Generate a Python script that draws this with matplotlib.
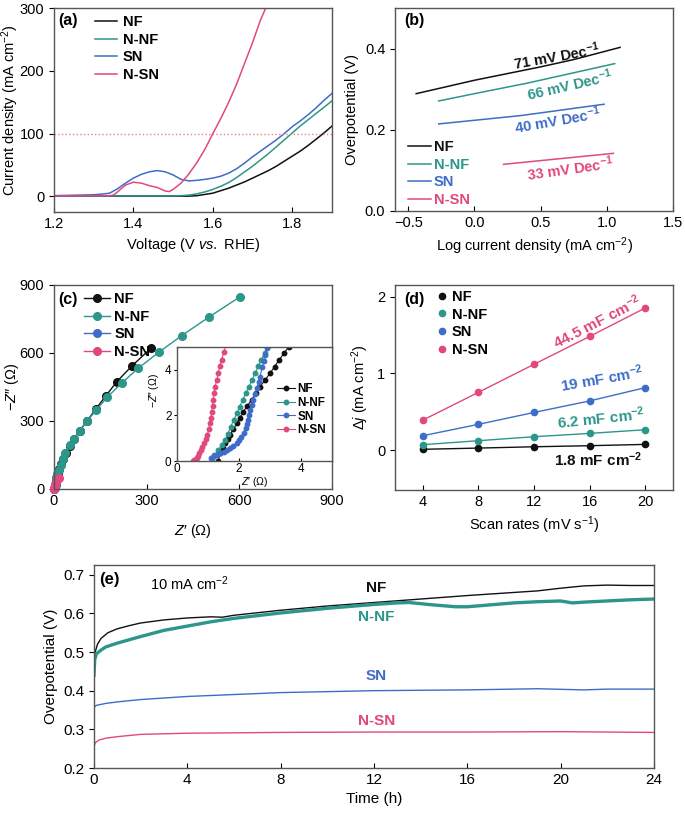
import numpy as np
import matplotlib
matplotlib.use("Agg")
import matplotlib.pyplot as plt

plt.rcParams['font.family'] = ['Liberation Sans', 'DejaVu Sans']
plt.rcParams['mathtext.fontset'] = 'custom'
plt.rcParams['mathtext.rm'] = 'Liberation Sans'
plt.rcParams['mathtext.it'] = 'Liberation Sans:italic'
plt.rcParams['mathtext.bf'] = 'Liberation Sans:bold'
plt.rcParams['font.size'] = 10
plt.rcParams['axes.linewidth'] = 1.0
plt.rcParams['axes.edgecolor'] = '#555555'
plt.rcParams['xtick.direction'] = 'in'
plt.rcParams['ytick.direction'] = 'out'
plt.rcParams['xtick.labelsize'] = 10.5
plt.rcParams['ytick.labelsize'] = 10.5

names = ["NF", "N-NF", "SN", "N-SN"]
colors = ["#111111", "#2D968A", "#3F6CC8", "#E0487E"]

# (a) LSV
v_nf = [1.20, 1.54, 1.56, 1.58, 1.60, 1.62, 1.64, 1.66, 1.68, 1.70, 1.72, 1.74, 1.76, 1.78, 1.80, 1.82, 1.84, 1.86, 1.88, 1.90]
j_nf = [0.3, 0.3, 1, 3, 5, 9, 13, 18, 23, 29, 35, 41, 48, 56, 64, 72, 81, 91, 101, 112]
v_nnf = [1.20, 1.50, 1.52, 1.54, 1.56, 1.58, 1.60, 1.62, 1.64, 1.66, 1.68, 1.70, 1.72, 1.74, 1.76, 1.78, 1.80, 1.82, 1.84, 1.86, 1.88, 1.90]
j_nnf = [0.5, 0.5, 1, 2, 4, 7, 11, 16, 22, 30, 39, 48, 58, 68, 79, 90, 101, 112, 122, 132, 142, 152]
v_sn = [1.20, 1.30, 1.32, 1.34, 1.36, 1.38, 1.40, 1.42, 1.44, 1.46, 1.48, 1.50, 1.52, 1.54, 1.56, 1.58, 1.60, 1.62, 1.64, 1.66, 1.68, 1.70, 1.72, 1.74, 1.76, 1.78, 1.80, 1.82, 1.84, 1.86, 1.88, 1.90]
j_sn = [1, 2.5, 3.5, 5, 12, 21, 29, 35, 39, 41, 39, 34, 27, 24.5, 25.5, 27, 29, 32, 37, 44, 53, 63, 72, 81, 90, 100, 111, 120, 130, 141, 153, 164]
v_nsn = [1.20, 1.34, 1.35, 1.36, 1.38, 1.40, 1.42, 1.44, 1.46, 1.48, 1.49, 1.50, 1.52, 1.54, 1.56, 1.58, 1.60, 1.62, 1.64, 1.66, 1.68, 1.70, 1.72, 1.74]
j_nsn = [0.5, 1, 2, 7, 18, 22.5, 21, 17, 14, 8.5, 7.5, 11, 21, 36, 54, 75, 100, 124, 150, 179, 212, 245, 281, 310]

# (b) Tafel
lg_nf = [-0.44, 0.0, 0.5, 0.75, 1.10]
eta_nf = [0.289, 0.322, 0.355, 0.373, 0.403]
lg_nnf = [-0.27, 0.0, 0.40, 1.06]
eta_nnf = [0.271, 0.289, 0.315, 0.363]
lg_sn = [-0.27, 0.35, 0.98]
eta_sn = [0.2145, 0.235, 0.263]
lg_nsn = [0.22, 1.05]
eta_nsn = [0.115, 0.142]
tafel_labels = ["71 mV Dec$^{\\mathbf{-1}}$", "66 mV Dec$^{\\mathbf{-1}}$",
                "40 mV Dec$^{\\mathbf{-1}}$", "33 mV Dec$^{\\mathbf{-1}}$"]

# (c) Nyquist
zr_nf = [0, 2, 5, 8, 12, 16, 22, 30, 40, 52, 65, 83, 107, 135, 168, 203, 253, 314]
zi_nf = [0, 15, 30, 50, 70, 90, 110, 132, 158, 188, 220, 257, 300, 352, 411, 473, 544, 621]
zr_nnf = [0, 3, 5, 8, 11, 15, 22, 29, 37, 51, 64, 83, 107, 136, 173, 219, 272, 339, 414, 501, 601]
zi_nnf = [0, 15, 27, 49, 68, 86, 108, 133, 160, 192, 222, 257, 300, 347, 406, 467, 532, 603, 677, 758, 847]
zr_sn = [1, 2, 3, 5, 8, 11]
zi_sn = [0, 3, 8, 18, 30, 42]
zr_nsn = [0.5, 1, 2, 4, 7, 11, 16]
zi_nsn = [0, 5, 12, 22, 32, 42, 50]

# (c) inset
izr_nf = [1.33, 1.39, 1.47, 1.55, 1.63, 1.71, 1.82, 1.93, 2.03, 2.14, 2.27, 2.41, 2.54, 2.68, 2.84, 3.0, 3.15, 3.29, 3.45, 3.6]
izi_nf = [0.0, 0.34, 0.56, 0.78, 0.96, 1.14, 1.4, 1.65, 1.9, 2.17, 2.42, 2.68, 2.97, 3.26, 3.55, 3.85, 4.14, 4.43, 4.72, 5.0]
izr_nnf = [1.12, 1.2, 1.33, 1.44, 1.55, 1.64, 1.73, 1.83, 1.93, 2.02, 2.12, 2.22, 2.32, 2.42, 2.52, 2.62, 2.71, 2.84, 2.95]
izi_nnf = [0.05, 0.25, 0.48, 0.7, 0.92, 1.2, 1.5, 1.8, 2.09, 2.38, 2.68, 2.97, 3.26, 3.55, 3.85, 4.15, 4.43, 4.75, 5.05]
izr_sn = [1.1, 1.2, 1.28, 1.39, 1.5, 1.6, 1.71, 1.82, 1.93, 2.0, 2.08, 2.15, 2.21, 2.25, 2.28, 2.31, 2.35, 2.41, 2.46, 2.52, 2.57, 2.63, 2.68, 2.75, 2.8, 2.84, 2.89, 2.95]
izi_sn = [0.12, 0.2, 0.26, 0.33, 0.41, 0.48, 0.56, 0.66, 0.78, 0.9, 1.07, 1.25, 1.43, 1.62, 1.8, 2.02, 2.24, 2.46, 2.68, 2.93, 3.19, 3.45, 3.7, 4.14, 4.4, 4.65, 4.94, 5.2]
izr_nsn = [0.52, 0.56, 0.6, 0.64, 0.68, 0.72, 0.77, 0.82, 0.87, 0.93, 0.98, 1.02, 1.06, 1.09, 1.12, 1.15, 1.17, 1.2, 1.23, 1.28, 1.33, 1.38, 1.44, 1.52, 1.6]
izi_nsn = [0, 0.03, 0.08, 0.15, 0.22, 0.34, 0.48, 0.63, 0.78, 0.96, 1.14, 1.4, 1.65, 1.9, 2.17, 2.42, 2.68, 2.97, 3.26, 3.55, 3.85, 4.15, 4.45, 4.8, 5.2]

# (d) double-layer capacitance
scan = [4, 8, 12, 16, 20]
dj_nf = [0.01, 0.026, 0.043, 0.057, 0.074]
dj_nnf = [0.07, 0.122, 0.174, 0.217, 0.265]
dj_sn = [0.187, 0.335, 0.49, 0.64, 0.813]
dj_nsn = [0.39, 0.752, 1.117, 1.48, 1.85]
cdl_labels = ["1.8 mF cm$^{\\mathbf{-2}}$", "6.2 mF cm$^{\\mathbf{-2}}$",
              "19 mF cm$^{\\mathbf{-2}}$", "44.5 mF cm$^{\\mathbf{-2}}$"]

# (e) stability
t_nf = [0, 0.05, 0.15, 0.3, 0.6, 1, 1.5, 2, 3, 4, 5, 5.5, 6, 8, 10, 12, 14, 16, 18, 19, 20, 21, 22, 23, 24]
e_nf = [0.46, 0.50, 0.52, 0.535, 0.55, 0.56, 0.568, 0.575, 0.583, 0.588, 0.591, 0.59, 0.595, 0.608, 0.619, 0.628, 0.637, 0.646, 0.654, 0.658, 0.665, 0.671, 0.673, 0.672, 0.672]
t_nnf = [0, 0.03, 0.1, 0.3, 0.5, 1, 2, 3, 4, 5, 6, 8, 10, 12, 13, 13.5, 14.5, 15.5, 16, 17, 18, 19, 20, 20.5, 21, 22, 23, 24]
e_nnf = [0.44, 0.48, 0.495, 0.505, 0.513, 0.523, 0.54, 0.556, 0.567, 0.578, 0.587, 0.601, 0.613, 0.623, 0.627, 0.628, 0.622, 0.617, 0.617, 0.622, 0.627, 0.63, 0.632, 0.627, 0.629, 0.632, 0.635, 0.637]
t_sn = [0, 0.1, 0.5, 1, 2, 4, 6, 8, 12, 16, 19, 21, 22, 24]
e_sn = [0.357, 0.362, 0.367, 0.371, 0.377, 0.385, 0.39, 0.395, 0.40, 0.402, 0.405, 0.402, 0.404, 0.404]
t_nsn = [0, 0.05, 0.2, 0.5, 1, 2, 4, 8, 12, 16, 20, 24]
e_nsn = [0.255, 0.265, 0.272, 0.277, 0.281, 0.287, 0.29, 0.292, 0.293, 0.293, 0.294, 0.292]

fig = plt.figure(figsize=(6.85, 8.14), dpi=100)
W, H = 685.0, 814.0
def box(x0, y0, x1, y1):
    return [x0 / W, 1 - y1 / H, (x1 - x0) / W, (y1 - y0) / H]

# ---- (a)
ax = fig.add_axes(box(54, 8, 332, 212))
for v, j, c, n in zip([v_nf, v_nnf, v_sn, v_nsn], [j_nf, j_nnf, j_sn, j_nsn], colors, names):
    ax.plot(v, j, color=c, lw=1.1, label=n)
ax.axhline(100, color='#F08080', ls=':', lw=1.0)
ax.set_xlim(1.2, 1.9)
ax.set_ylim(-25, 300)
ax.set_xticks([1.2, 1.4, 1.6, 1.8])
ax.set_yticks([0, 100, 200, 300])
ax.set_xlabel("Voltage (V $\\mathit{vs.}$ RHE)", fontsize=10.5)
ax.set_ylabel("Current density (mA cm$^{-2}$)", fontsize=10.5)
ax.yaxis.set_label_coords(-0.118, 0.5)
ax.text(0.015, 0.975, "(a)", transform=ax.transAxes, fontsize=11.5, fontweight='bold', va='top')
ax.legend(loc='upper left', bbox_to_anchor=(0.1, 1.03), frameon=False, handlelength=1.5,
          labelspacing=0.25, handletextpad=0.4, prop={'weight': 'bold', 'size': 10.5})

# ---- (b)
ax = fig.add_axes(box(395, 8, 673, 211))
for x, y, c, n in zip([lg_nf, lg_nnf, lg_sn, lg_nsn], [eta_nf, eta_nnf, eta_sn, eta_nsn], colors, names):
    ax.plot(x, y, color=c, lw=1.1, label=n)
tx = [0.62, 0.72, 0.63, 0.72]
ty = [0.381, 0.311, 0.224, 0.105]
rot = [10, 13, 10, 8]
for i in range(4):
    ax.text(tx[i], ty[i], tafel_labels[i], color=colors[i], fontsize=10.5, fontweight='bold',
            rotation=rot[i], ha='center', va='center')
ax.set_xlim(-0.6, 1.5)
ax.set_ylim(0, 0.5)
ax.set_xticks([-0.5, 0.0, 0.5, 1.0, 1.5])
ax.set_xticklabels(["\u22120.5", "0.0", "0.5", "1.0", "1.5"])
ax.set_yticks([0.0, 0.2, 0.4])
ax.set_xlabel("Log current density (mA cm$^{-2}$)", fontsize=10.5)
ax.set_ylabel("Overpotential (V)", fontsize=10.5)
ax.text(0.035, 0.975, "(b)", transform=ax.transAxes, fontsize=11.5, fontweight='bold', va='top')
leg = ax.legend(loc='lower left', bbox_to_anchor=(0.0, -0.045), frameon=False, handlelength=1.6,
                labelspacing=0.25, handletextpad=0.15, prop={'weight': 'bold', 'size': 10.5})
for t, c in zip(leg.get_texts(), colors):
    t.set_color(c)

# ---- (c)
ax = fig.add_axes(box(54, 285, 332, 489))
for x, y, c, n in zip([zr_nf, zr_nnf, zr_sn, zr_nsn], [zi_nf, zi_nnf, zi_sn, zi_nsn], colors, names):
    ax.plot(x, y, color=c, lw=1.0, marker='o', ms=5.5, mec=c, mfc=c, label=n, clip_on=False)
ax.set_xlim(0, 900)
ax.set_ylim(0, 900)
ax.set_xticks([0, 300, 600, 900])
ax.set_yticks([0, 300, 600, 900])
ax.set_xlabel("$Z$\u2032 (\u03a9)", fontsize=10.5, labelpad=10)
ax.set_ylabel("\u2212$Z$\u2033 (\u03a9)", fontsize=10.5)
ax.yaxis.set_label_coords(-0.118, 0.5)
ax.text(0.015, 0.965, "(c)", transform=ax.transAxes, fontsize=11.5, fontweight='bold', va='top')
ax.legend(loc='upper left', bbox_to_anchor=(0.06, 1.03), frameon=False, handlelength=1.8,
          labelspacing=0.25, handletextpad=0.3, prop={'weight': 'bold', 'size': 10.5})

# inset
ins = fig.add_axes(box(177, 347, 332, 461))
for x, y, c, n in zip([izr_nf, izr_nnf, izr_sn, izr_nsn], [izi_nf, izi_nnf, izi_sn, izi_nsn], colors, names):
    ins.plot(x, y, color=c, lw=0.8, marker='o', ms=3.2, mec=c, mfc=c, label=n)
ins.set_xlim(0, 5)
ins.set_ylim(0, 5)
ins.set_xticks([0, 2, 4])
ins.set_yticks([0, 2, 4])
ins.tick_params(labelsize=8.5, length=2.5, pad=1.5)
ins.set_xlabel("$Z$\u2032 (\u03a9)", fontsize=7.5, labelpad=0)
ins.set_ylabel("\u2212$Z$\u2033 (\u03a9)", fontsize=7.5)
ins.yaxis.set_label_coords(-0.105, 0.62)
ins.legend(loc='center right', bbox_to_anchor=(1.03, 0.45), frameon=False, handlelength=1.5,
           labelspacing=0.15, handletextpad=0.2, prop={'weight': 'bold', 'size': 8.5})

# ---- (d)
ax = fig.add_axes(box(395, 285, 673, 490))
for y, c, n in zip([dj_nf, dj_nnf, dj_sn, dj_nsn], colors, names):
    ax.plot(scan, y, color=c, lw=1.0, marker='o', ms=4.5, mec=c, mfc=c)
    ax.plot([], [], ls='none', marker='o', ms=4.5, color=c, label=n)
cx = [16.6, 16.8, 16.9, 16.5]
cy = [-0.12, 0.41, 0.93, 1.67]
crot = [0, 6, 10, 27]
for i in range(4):
    ax.text(cx[i], cy[i], cdl_labels[i], color=colors[i], fontsize=11, fontweight='bold',
            rotation=crot[i], ha='center', va='center')
ax.set_xlim(2, 22)
ax.set_ylim(-0.52, 2.15)
ax.set_xticks([4, 8, 12, 16, 20])
ax.set_yticks([0, 1, 2])
ax.set_xlabel("Scan rates (mV s$^{-1}$)", fontsize=10.5)
ax.set_ylabel("\u0394$j$ (mA cm$^{-2}$)", fontsize=10.5)
ax.text(0.035, 0.965, "(d)", transform=ax.transAxes, fontsize=11.5, fontweight='bold', va='top')
ax.legend(loc='upper left', bbox_to_anchor=(0.1, 1.04), frameon=False, handlelength=0.8,
          labelspacing=0.25, handletextpad=0.3, prop={'weight': 'bold', 'size': 10.5})

# ---- (e)
narrow = ['Liberation Sans Narrow', 'Liberation Sans']
ax = fig.add_axes(box(94, 565, 654, 768))
ax.plot(t_nf, e_nf, color=colors[0], lw=1.0)
ax.plot(t_nnf, e_nnf, color=colors[1], lw=2.4)
ax.plot(t_sn, e_sn, color=colors[2], lw=1.0)
ax.plot(t_nsn, e_nsn, color=colors[3], lw=1.0)
ex = [12.1, 12.1, 12.1, 12.1]
ey = [0.665, 0.590, 0.437, 0.322]
for i in range(4):
    ax.text(ex[i], ey[i], names[i], color=colors[i], fontsize=11, fontweight='bold',
            ha='center', va='center', family=narrow)
ax.set_xlim(0, 24)
ax.set_ylim(0.2, 0.725)
ax.set_xticks([0, 4, 8, 12, 16, 20, 24])
ax.set_yticks([0.2, 0.3, 0.4, 0.5, 0.6, 0.7])
for lab in ax.get_xticklabels() + ax.get_yticklabels():
    lab.set_family(narrow)
    lab.set_fontsize(11)
ax.set_xlabel("Time (h)", fontsize=11, family=narrow)
ax.set_ylabel("Overpotential (V)", fontsize=11, family=narrow)
ax.text(0.01, 0.965, "(e)", transform=ax.transAxes, fontsize=12, fontweight='bold', va='top', family=narrow)
ax.text(0.1, 0.955, "10 mA cm$^{-2}$", transform=ax.transAxes, fontsize=10.5, va='top', family=narrow)

fig.savefig("out.png", dpi=100)
